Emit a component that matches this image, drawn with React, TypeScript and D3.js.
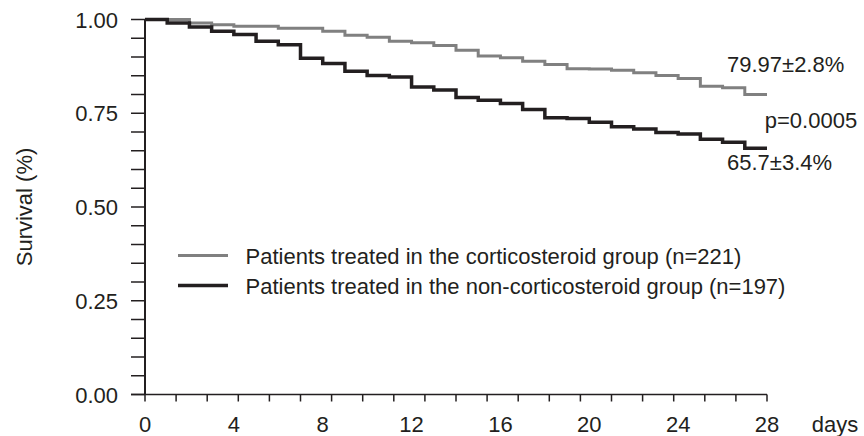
import React, { useRef, useEffect } from "react";
import { select, scaleLinear, line, curveStepAfter, range } from "d3";

const width = 864;
const height = 436;

// day at which each interval starts, last entry closes the curve
const days = [0, 1, 2, 3, 4, 5, 6, 7, 8, 9, 10, 11, 12, 13, 14, 15, 16, 17, 18, 19, 20, 21, 22, 23, 24, 25, 26, 27, 28];

const steroid = [
  1.0, 1.0, 0.991, 0.986, 0.982, 0.982, 0.977, 0.977, 0.969, 0.958,
  0.953, 0.942, 0.938, 0.931, 0.918, 0.903, 0.898, 0.889, 0.88, 0.869,
  0.868, 0.865, 0.858, 0.851, 0.843, 0.822, 0.818, 0.7997, 0.7997
];

const nonSteroid = [
  1.0, 0.991, 0.98, 0.969, 0.96, 0.942, 0.933, 0.897, 0.883, 0.862,
  0.851, 0.847, 0.82, 0.812, 0.792, 0.785, 0.776, 0.76, 0.738, 0.736,
  0.726, 0.714, 0.708, 0.699, 0.695, 0.681, 0.673, 0.657, 0.657
];

const xLabels = [0, 4, 8, 12, 16, 20, 24, 28];
const yLabels = ["0.00", "0.25", "0.50", "0.75", "1.00"];
const yLabelValues = [0, 0.25, 0.5, 0.75, 1];

const groups = [
  { name: "Patients treated in the corticosteroid group (n=221)", values: steroid, color: "#808080", width: 3 },
  { name: "Patients treated in the non-corticosteroid group (n=197)", values: nonSteroid, color: "#231f20", width: 3.5 }
];

const notes = [
  { text: "79.97\u00b12.8%", day: 26.2, value: 0.86 },
  { text: "p=0.0005", day: 27.9, value: 0.71 },
  { text: "65.7\u00b13.4%", day: 26.2, value: 0.598 }
];

const font = "'Liberation Sans', Arial, Helvetica, sans-serif";
const ink = "#231f20";

export default function App() {
  const svgRef = useRef<SVGSVGElement>(null);

  useEffect(() => {
    document.body.style.margin = "0";
    const svg = select(svgRef.current);
    svg.selectAll("*").remove();

    const x = scaleLinear().domain([0, 28]).range([145, 767]);
    const y = scaleLinear().domain([0, 1]).range([394.5, 19.5]);

    // curves
    groups.forEach(g => {
      const path = line<number>()
        .x((d, i) => x(days[i]))
        .y(d => y(d))
        .curve(curveStepAfter);
      svg.append("path")
        .attr("d", path(g.values))
        .attr("fill", "none")
        .attr("stroke", g.color)
        .attr("stroke-width", g.width);
    });

    // y axis
    svg.append("line")
      .attr("x1", x(0)).attr("x2", x(0))
      .attr("y1", y(1)).attr("y2", y(0))
      .attr("stroke", ink).attr("stroke-width", 2);
    svg.selectAll(".ytick")
      .data(range(0, 21))
      .enter()
      .append("line")
      .attr("x1", x(0) - 14).attr("x2", x(0))
      .attr("y1", d => y(d * 0.05)).attr("y2", d => y(d * 0.05))
      .attr("stroke", ink).attr("stroke-width", 1.5);
    svg.selectAll(".ylab")
      .data(yLabelValues)
      .enter()
      .append("text")
      .attr("x", 118)
      .attr("y", d => y(d) + 8)
      .attr("text-anchor", "end")
      .style("font", `22px ${font}`)
      .attr("fill", ink)
      .text((d, i) => yLabels[i]);

    // x axis
    svg.append("line")
      .attr("x1", x(0) - 14).attr("x2", x(28))
      .attr("y1", y(0)).attr("y2", y(0))
      .attr("stroke", ink).attr("stroke-width", 1.5);
    svg.selectAll(".xtick")
      .data(range(0, 21))
      .enter()
      .append("line")
      .attr("x1", d => x(d * 1.4)).attr("x2", d => x(d * 1.4))
      .attr("y1", y(0)).attr("y2", y(0) + 7)
      .attr("stroke", ink).attr("stroke-width", 1.5);
    svg.selectAll(".xlab")
      .data(xLabels)
      .enter()
      .append("text")
      .attr("x", d => x(d))
      .attr("y", 432)
      .attr("text-anchor", "middle")
      .style("font", `22px ${font}`)
      .attr("fill", ink)
      .text(d => d);
    svg.append("text")
      .attr("x", 835).attr("y", 432)
      .attr("text-anchor", "middle")
      .style("font", `22px ${font}`)
      .attr("fill", ink)
      .text("days");

    svg.append("text")
      .attr("transform", "translate(32,207) rotate(-90)")
      .attr("text-anchor", "middle")
      .style("font", `22px ${font}`)
      .attr("fill", ink)
      .text("Survival (%)");

    // legend
    const lg = svg.append("g").attr("transform", "translate(178,255.5)");
    groups.forEach((g, i) => {
      lg.append("line")
        .attr("x1", 0).attr("x2", 50)
        .attr("y1", i * 30).attr("y2", i * 30)
        .attr("stroke", g.color)
        .attr("stroke-width", g.width);
      lg.append("text")
        .attr("x", 67.5).attr("y", i * 30 + 8)
        .style("font", `22px ${font}`)
        .attr("fill", ink)
        .text(g.name);
    });

    // annotations
    svg.selectAll(".note")
      .data(notes)
      .enter()
      .append("text")
      .attr("x", d => x(d.day))
      .attr("y", d => y(d.value))
      .style("font", `22px ${font}`)
      .attr("fill", ink)
      .text(d => d.text);
  }, []);

  return <svg ref={svgRef} width={width} height={height} style={{ display: "block", background: "#fff" }} />;
}
